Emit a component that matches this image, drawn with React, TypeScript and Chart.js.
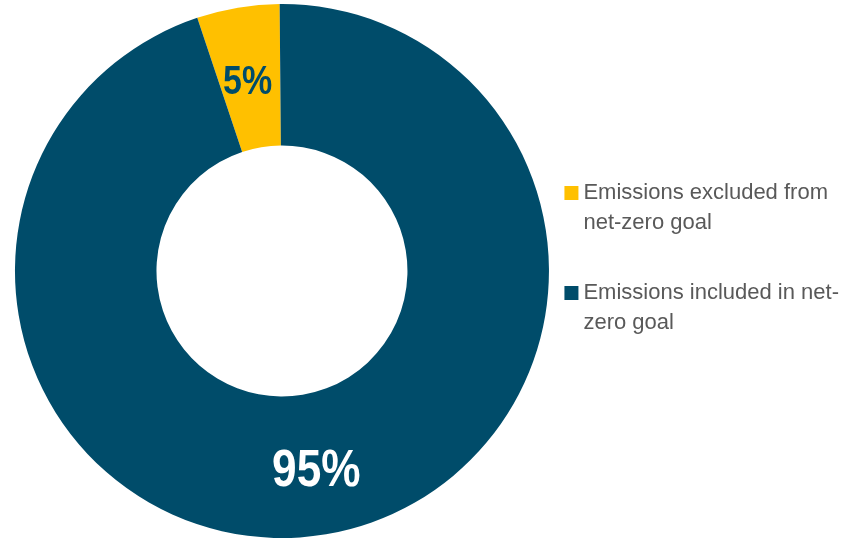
import React, { useEffect, useRef } from 'react';
import { Chart, registerables } from 'chart.js';

Chart.register(...registerables);

// ---- data ----
const categories: string[][] = [
  ['Emissions excluded from', 'net-zero goal'],
  ['Emissions included in net-', 'zero goal'],
];
const shareValues: number[] = [5, 95];
const valueLabels: string[] = ['5%', '95%'];

// ---- styles ----
const sliceColors = ['#FFC000', '#004C6A'];
const valueLabelColors = ['#004C6A', '#FFFFFF'];
const valueLabelSizes = [40, 52];
const LABEL_FONT = '"Liberation Sans", Arial, sans-serif';
const CONDENSE = 0.85;

const sliceLabelPlugin = {
  id: 'sliceLabels',
  afterDatasetsDraw(chart: any) {
    const meta = chart.getDatasetMeta(0);
    const ctx = chart.ctx as CanvasRenderingContext2D;
    const cx = (chart.chartArea.left + chart.chartArea.right) / 2;
    meta.data.forEach((arc: any, i: number) => {
      const p = arc.getCenterPoint();
      const size = valueLabelSizes[i];
      const dx = p.x < cx ? -2 : 2;
      ctx.save();
      ctx.font = `bold ${size}px ${LABEL_FONT}`;
      ctx.fillStyle = valueLabelColors[i];
      ctx.textAlign = 'center';
      ctx.textBaseline = 'alphabetic';
      ctx.translate(p.x + dx, p.y + 2.6 + size * 0.358);
      ctx.scale(CONDENSE, 1);
      ctx.fillText(valueLabels[i], 0, 0);
      ctx.restore();
    });
  },
};

export default function App() {
  const ref = useRef<HTMLCanvasElement | null>(null);

  useEffect(() => {
    if (!ref.current) return;
    const chart = new Chart(ref.current, {
      type: 'doughnut',
      data: {
        labels: categories as any,
        datasets: [
          {
            data: shareValues,
            backgroundColor: sliceColors,
            borderWidth: 0,
          },
        ],
      },
      options: {
        responsive: false,
        animation: false,
        rotation: -18.5,
        cutout: '47%',
        layout: { padding: { left: 3.5, right: 0, top: 4, bottom: 1 } },
        plugins: {
          tooltip: { enabled: false },
          legend: {
            position: 'right',
            align: 'center',
            title: { display: true, text: '', padding: 0, font: { size: 12, lineHeight: 1 } },
            labels: {
              usePointStyle: true,
              pointStyle: 'rect',
              boxWidth: 2,
              boxHeight: 14,
              padding: 10,
              color: '#595959',
              font: { family: '"Liberation Sans", Arial, sans-serif', size: 22, lineHeight: 30 / 22 },
              generateLabels: (c: any) => {
                const base = (Chart as any).overrides.doughnut.plugins.legend.labels.generateLabels(c);
                return base.map((item: any) => ({ ...item, text: [...(item.text as string[]), ''] }));
              },
            },
          },
        },
      } as any,
      plugins: [sliceLabelPlugin],
    });
    return () => chart.destroy();
  }, []);

  return (
    <div style={{ position: 'fixed', left: 0, top: 0, width: 849, height: 539, background: '#fff' }}>
      <canvas ref={ref} width={849} height={539} style={{ display: 'block' }} />
    </div>
  );
}
